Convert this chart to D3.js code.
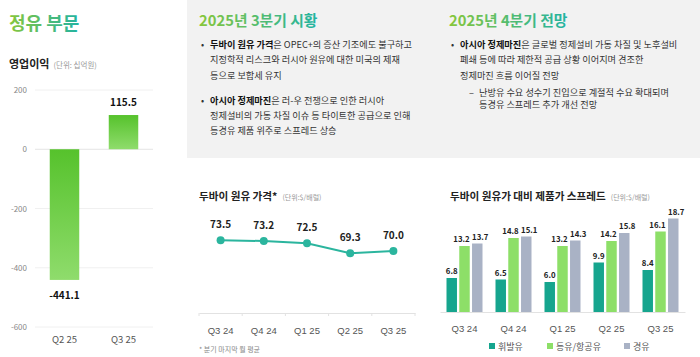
<!DOCTYPE html>
<html><head><meta charset="utf-8">
<script src="https://cdn.jsdelivr.net/npm/d3@7"></script>
<style>
body{margin:0;background:#fff;}
svg{display:block;font-family:"Noto Sans CJK KR","Noto Sans",sans-serif;}
</style></head>
<body><svg id="c" width="700" height="357"></svg>
<script>
// ---- data ----
const opCategories = ["Q2 25", "Q3 25"];
const opValues = [-441.1, 115.5];
const opTicks = [200, 0, -200, -400, -600];

const quarters = ["Q3 24", "Q4 24", "Q1 25", "Q2 25", "Q3 25"];
const dubaiPrice = [73.5, 73.2, 72.5, 69.3, 70.0];

const spreadSeries = ["휘발유", "등유/항공유", "경유"];
const gasoline = [6.8, 6.5, 6.0, 9.9, 8.4];
const kerosene = [13.2, 14.8, 13.2, 14.2, 16.1];
const diesel = [13.7, 15.1, 14.3, 15.8, 18.7];

const q3Title = "2025년 3분기 시황";
const q4Title = "2025년 4분기 전망";

const svg = d3.select("#c");
const defs = svg.append("defs");
const tg = defs.append("linearGradient").attr("id","titleGrad").attr("x1","0%").attr("x2","100%");
tg.append("stop").attr("offset","0%").attr("stop-color","#86c63c");
tg.append("stop").attr("offset","100%").attr("stop-color","#22b3a2");
const bg = defs.append("linearGradient").attr("id","barGrad").attr("x1","0").attr("x2","0").attr("y1","0").attr("y2","1");
bg.append("stop").attr("offset","0%").attr("stop-color","#56c22c");
bg.append("stop").attr("offset","100%").attr("stop-color","#8fdc6c");

// ---- left: 영업이익 ----
svg.append("text").attr("x",9).attr("y",30).attr("font-size",18).attr("font-weight",700)
  .attr("fill","url(#titleGrad)").text("정유 부문");
const lt = svg.append("text").attr("x",9).attr("y",68).attr("font-size",11).attr("font-weight",700).attr("fill","#222");
lt.append("tspan").text("영업이익");
lt.append("tspan").attr("dx",4).attr("font-size",7.5).attr("font-weight",400).attr("fill","#999").text("(단위: 십억원)");

const yOp = d3.scaleLinear().domain([-600, 200]).range([327, 90]);
const xOp = d3.scaleBand().domain(opCategories).range([35, 153]).paddingInner(0.5).paddingOuter(0.25);
const gOp = svg.append("g");
gOp.selectAll("line.grid").data(opTicks).join("line")
  .attr("x1",35).attr("x2",153).attr("y1",d=>yOp(d)).attr("y2",d=>yOp(d))
  .attr("stroke",d=>d===0?"#e4e4e4":"#f0f0f0").attr("stroke-width",1);
gOp.selectAll("text.tick").data(opTicks).join("text")
  .attr("x",27).attr("y",d=>yOp(d)+3).attr("text-anchor","end").attr("font-size",8).attr("fill","#888")
  .text(d=>d);
gOp.selectAll("rect").data(opValues).join("rect")
  .attr("x",(d,i)=>xOp(opCategories[i])).attr("width",xOp.bandwidth())
  .attr("y",d=>yOp(Math.max(0,d))).attr("height",d=>Math.abs(yOp(d)-yOp(0)))
  .attr("fill","url(#barGrad)");
gOp.selectAll("text.val").data(opValues).join("text")
  .attr("x",(d,i)=>xOp(opCategories[i])+xOp.bandwidth()/2)
  .attr("y",d=>d<0?yOp(d)+19:yOp(d)-9)
  .attr("text-anchor","middle").attr("font-size",10).attr("font-weight",700).attr("fill","#111")
  .text(d=>d.toFixed(1));
gOp.selectAll("text.cat").data(opCategories).join("text")
  .attr("x",d=>xOp(d)+xOp.bandwidth()/2).attr("y",343).attr("text-anchor","middle")
  .attr("font-size",9.5).attr("fill","#555").text(d=>d);

// ---- top gray panel ----
svg.append("rect").attr("x",187).attr("y",0).attr("width",513).attr("height",158).attr("fill","#f2f2f2");

function titleText(x, y, t){
  svg.append("text").attr("x",x).attr("y",y).attr("font-size",14.8).attr("font-weight",700)
    .attr("fill","url(#titleGrad)").text(t);
}
titleText(199, 26, q3Title);
titleText(449, 26, q4Title);

const FS = 9.2;
function para(x, y, lines, step){
  const t = svg.append("text").attr("font-size",FS).attr("fill","#333");
  lines.forEach((ln,i)=>{
    const line = t.append("tspan").attr("x",x).attr("y",y+i*step);
    ln.forEach(seg=>{
      line.append("tspan").attr("font-weight",seg.b?700:400).attr("fill",seg.b?"#111":"#333").text(seg.t);
    });
  });
}
function bullet(x,y){ svg.append("text").attr("x",x).attr("y",y).attr("font-size",FS).attr("fill","#333").text("•"); }

bullet(201,47.5);
para(210,47.5,[
  [{t:"두바이 원유 가격",b:1},{t:"은 OPEC+의 증산 기조에도 불구하고"}],
  [{t:"지정학적 리스크와 러시아 원유에 대한 미국의 제재"}],
  [{t:"등으로 보합세 유지"}]
], 15.5);
bullet(201,103.5);
para(210,103.5,[
  [{t:"아시아 정제마진",b:1},{t:"은 러-우 전쟁으로 인한 러시아"}],
  [{t:"정제설비의 가동 차질 이슈 등 타이트한 공급으로 인해"}],
  [{t:"등경유 제품 위주로 스프레드 상승"}]
], 15);
bullet(451,47.5);
para(460,47.5,[
  [{t:"아시아 정제마진",b:1},{t:"은 글로벌 정제설비 가동 차질 및 노후설비"}],
  [{t:"폐쇄 등에 따라 제한적 공급 상황 이어지며 견조한"}],
  [{t:"정제마진 흐름 이어질 전망"}]
], 15.5);
svg.append("text").attr("x",469).attr("y",95.5).attr("font-size",FS).attr("fill","#333").text("–");
para(479,95.5,[
  [{t:"난방유 수요 성수기 진입으로 계절적 수요 확대되며"}],
  [{t:"등경유 스프레드 추가 개선 전망"}]
], 12.5);

// ---- middle: Dubai price line ----
const mt = svg.append("text").attr("x",199).attr("y",200).attr("font-size",10.6).attr("font-weight",700).attr("fill","#222");
mt.append("tspan").text("두바이 원유 가격*");
mt.append("tspan").attr("dx",5).attr("font-size",7).attr("font-weight",400).attr("fill","#999").text("(단위:$/배럴)");

const xL = d3.scaleBand().domain(quarters).range([199, 415]);
const yL = d3.scaleLinear().domain([50, 80]).range([313, 220]);
const gL = svg.append("g");
gL.append("g").attr("transform","translate(0,313)")
  .call(d3.axisBottom(xL).tickSize(0).tickPadding(14))
  .call(g=>{
    g.select(".domain").attr("stroke","#e2e2e2");
    g.selectAll("text").attr("font-size",9.5).attr("fill","#555").attr("font-family","inherit");
  });
gL.selectAll("line.tk").data(d3.range(quarters.length+1)).join("line")
  .attr("x1",i=>199+i*xL.step()).attr("x2",i=>199+i*xL.step()).attr("y1",313).attr("y2",316)
  .attr("stroke","#e2e2e2");
const cx = d=>xL(d)+xL.bandwidth()/2;
gL.append("path").datum(dubaiPrice)
  .attr("d", d3.line().x((d,i)=>cx(quarters[i])).y(d=>yL(d)))
  .attr("fill","none").attr("stroke","#2bb59e").attr("stroke-width",2);
gL.selectAll("circle").data(dubaiPrice).join("circle")
  .attr("cx",(d,i)=>cx(quarters[i])).attr("cy",d=>yL(d)).attr("r",4).attr("fill","#2bb59e");
gL.selectAll("text.v").data(dubaiPrice).join("text")
  .attr("x",(d,i)=>cx(quarters[i])).attr("y",d=>yL(d)-12).attr("text-anchor","middle")
  .attr("font-size",10).attr("font-weight",700).attr("fill","#222").text(d=>d.toFixed(1));
svg.append("text").attr("x",199).attr("y",352).attr("font-size",7).attr("fill","#888").text("* 분기 마지막 월 평균");

// ---- right: spread grouped bars ----
const rt = svg.append("text").attr("x",450).attr("y",200).attr("font-size",10.6).attr("font-weight",700).attr("fill","#222");
rt.append("tspan").text("두바이 원유가 대비 제품가 스프레드");
rt.append("tspan").attr("dx",5).attr("font-size",7).attr("font-weight",400).attr("fill","#999").text("(단위:$/배럴)");

const seriesData = [gasoline, kerosene, diesel];
const colors = ["#16a58e", "#8ddf68", "#a9b2c5"];
const labelShift = [0, -3, 3];
const x0 = d3.scaleBand().domain(quarters).range([440, 685]);
const x1 = d3.scaleBand().domain(spreadSeries).range([0, 36]).paddingInner(0.18);
const yB = d3.scaleLinear().domain([0, 20]).range([312, 212]);
const gB = svg.append("g");
gB.append("g").attr("transform","translate(0,312)")
  .call(d3.axisBottom(x0).tickSize(0).tickPadding(13))
  .call(g=>{
    g.select(".domain").attr("stroke","#e2e2e2");
    g.selectAll("text").attr("font-size",9.5).attr("fill","#555").attr("font-family","inherit");
  });
spreadSeries.forEach((s,si)=>{
  const vals = seriesData[si];
  gB.selectAll("rect.s"+si).data(vals).join("rect")
    .attr("x",(d,i)=>x0(quarters[i])+x0.bandwidth()/2-18+x1(s)).attr("width",x1.bandwidth())
    .attr("y",d=>yB(d)).attr("height",d=>yB(0)-yB(d)).attr("fill",colors[si]);
  gB.selectAll("text.s"+si).data(vals).join("text")
    .attr("x",(d,i)=>x0(quarters[i])+x0.bandwidth()/2-18+x1(s)+x1.bandwidth()/2+labelShift[si])
    .attr("y",d=>yB(d)-4).attr("text-anchor","middle")
    .attr("font-size",7.8).attr("font-weight",700).attr("fill","#222").text(d=>d.toFixed(1));
});
// legend
const lgX = [489, 547, 624];
spreadSeries.forEach((s,i)=>{
  gB.append("rect").attr("x",lgX[i]).attr("y",343).attr("width",6).attr("height",6).attr("fill",colors[i]);
  gB.append("text").attr("x",lgX[i]+9).attr("y",349.5).attr("font-size",9).attr("fill","#555").text(s);
});
</script></body></html>
